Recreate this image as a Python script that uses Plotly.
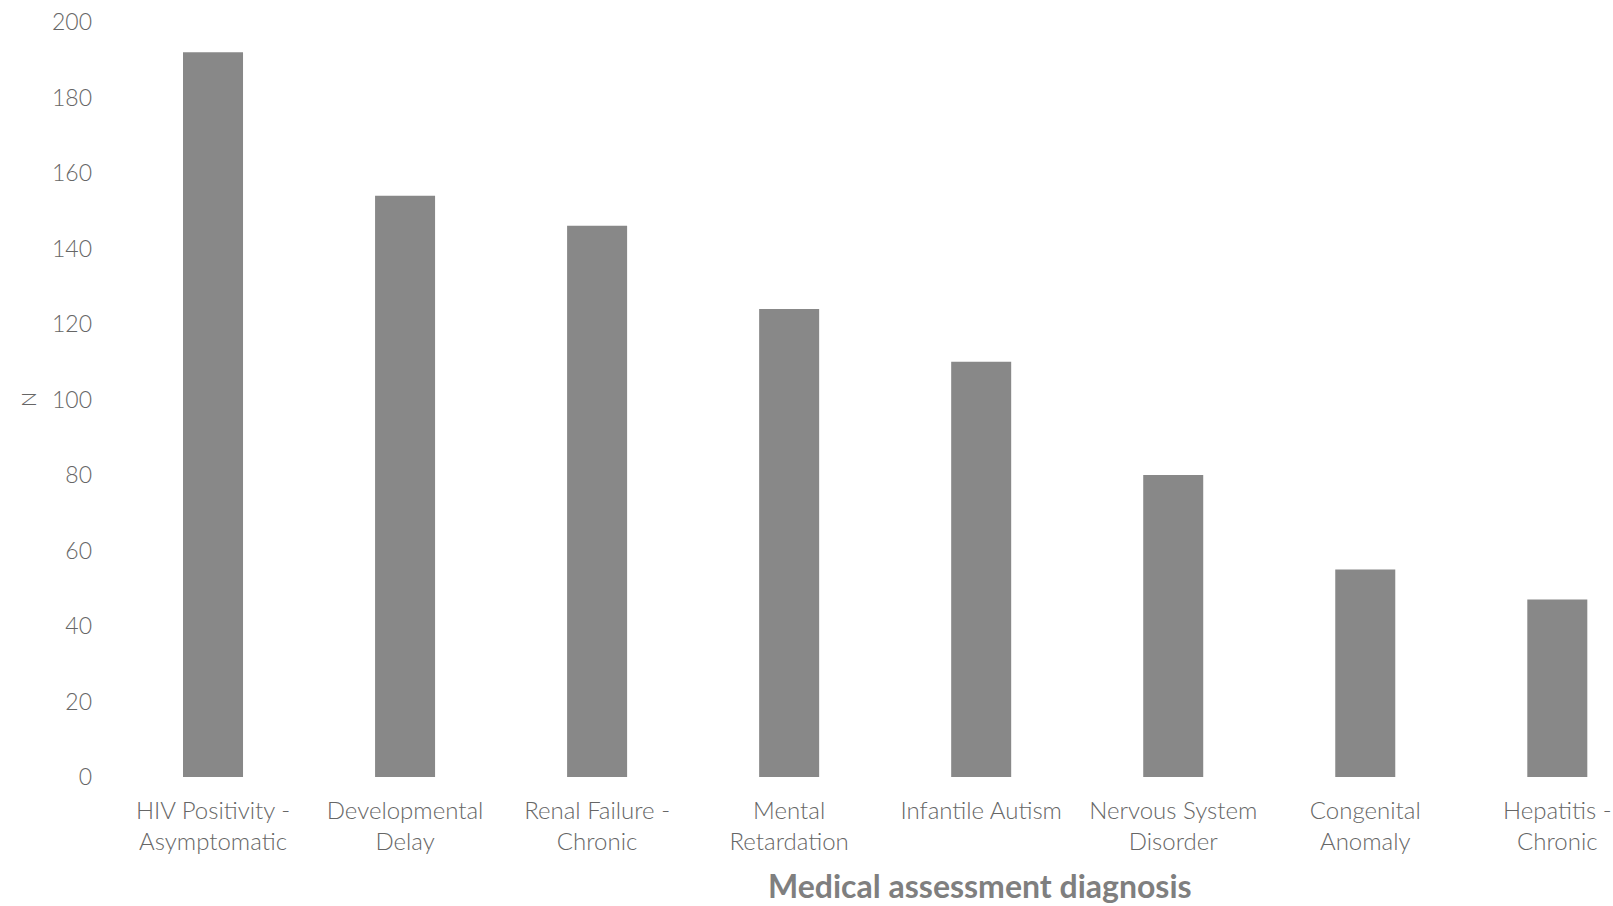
import plotly.graph_objects as go

categories = ["HIV Positivity -<br>Asymptomatic", "Developmental<br>Delay", "Renal Failure -<br>Chronic",
              "Mental<br>Retardation", "Infantile Autism", "Nervous System<br>Disorder",
              "Congenital<br>Anomaly", "Hepatitis -<br>Chronic"]
values = [192, 154, 146, 124, 110, 80, 55, 47]
y_ticks = [0, 20, 40, 60, 80, 100, 120, 140, 160, 180, 200]

W, H = 1613, 906
L, R, T, B = 117, 0, 22, 129

fig = go.Figure(go.Bar(
    x=categories, y=values, width=0.3125,
    marker=dict(color="#888888", line=dict(width=0)),
))

fam = "Lato, Carlito, Open Sans, sans-serif"
font = dict(family=fam, color="#666666", size=22, weight=300)

fig.update_layout(
    width=W, height=H, margin=dict(l=L, r=R, t=T, b=B),
    plot_bgcolor="white", paper_bgcolor="white",
    font=font, showlegend=False,
    xaxis=dict(range=[-0.5, 7.29], showgrid=False, showline=False, ticks="",
               tickfont=dict(size=24, color="#666666", family=fam, weight=300),
               ticklabelstandoff=17),
    yaxis=dict(range=[0, 200], tickvals=y_ticks, showgrid=False, showline=False,
               zeroline=False, ticks="", tickfont=dict(size=23, color="#666666", family=fam, weight=300),
               ticklabelstandoff=24),
    annotations=[
        dict(text="<b>Medical assessment diagnosis</b>", xref="paper", yref="paper",
             x=(980 - L) / (W - L - R), y=-(885 - 777) / (H - T - B),
             xanchor="center", yanchor="middle", showarrow=False,
             font=dict(size=32, color="#7f7f7f", family=fam)),
        dict(text="N", xref="paper", yref="paper",
             x=(28 - L) / (W - L - R), y=(777 - 400) / (H - T - B),
             xanchor="center", yanchor="middle", showarrow=False, textangle=-90,
             font=dict(size=20, color="#666666", family=fam, weight=300)),
    ],
)

fig.write_html("out.html")
